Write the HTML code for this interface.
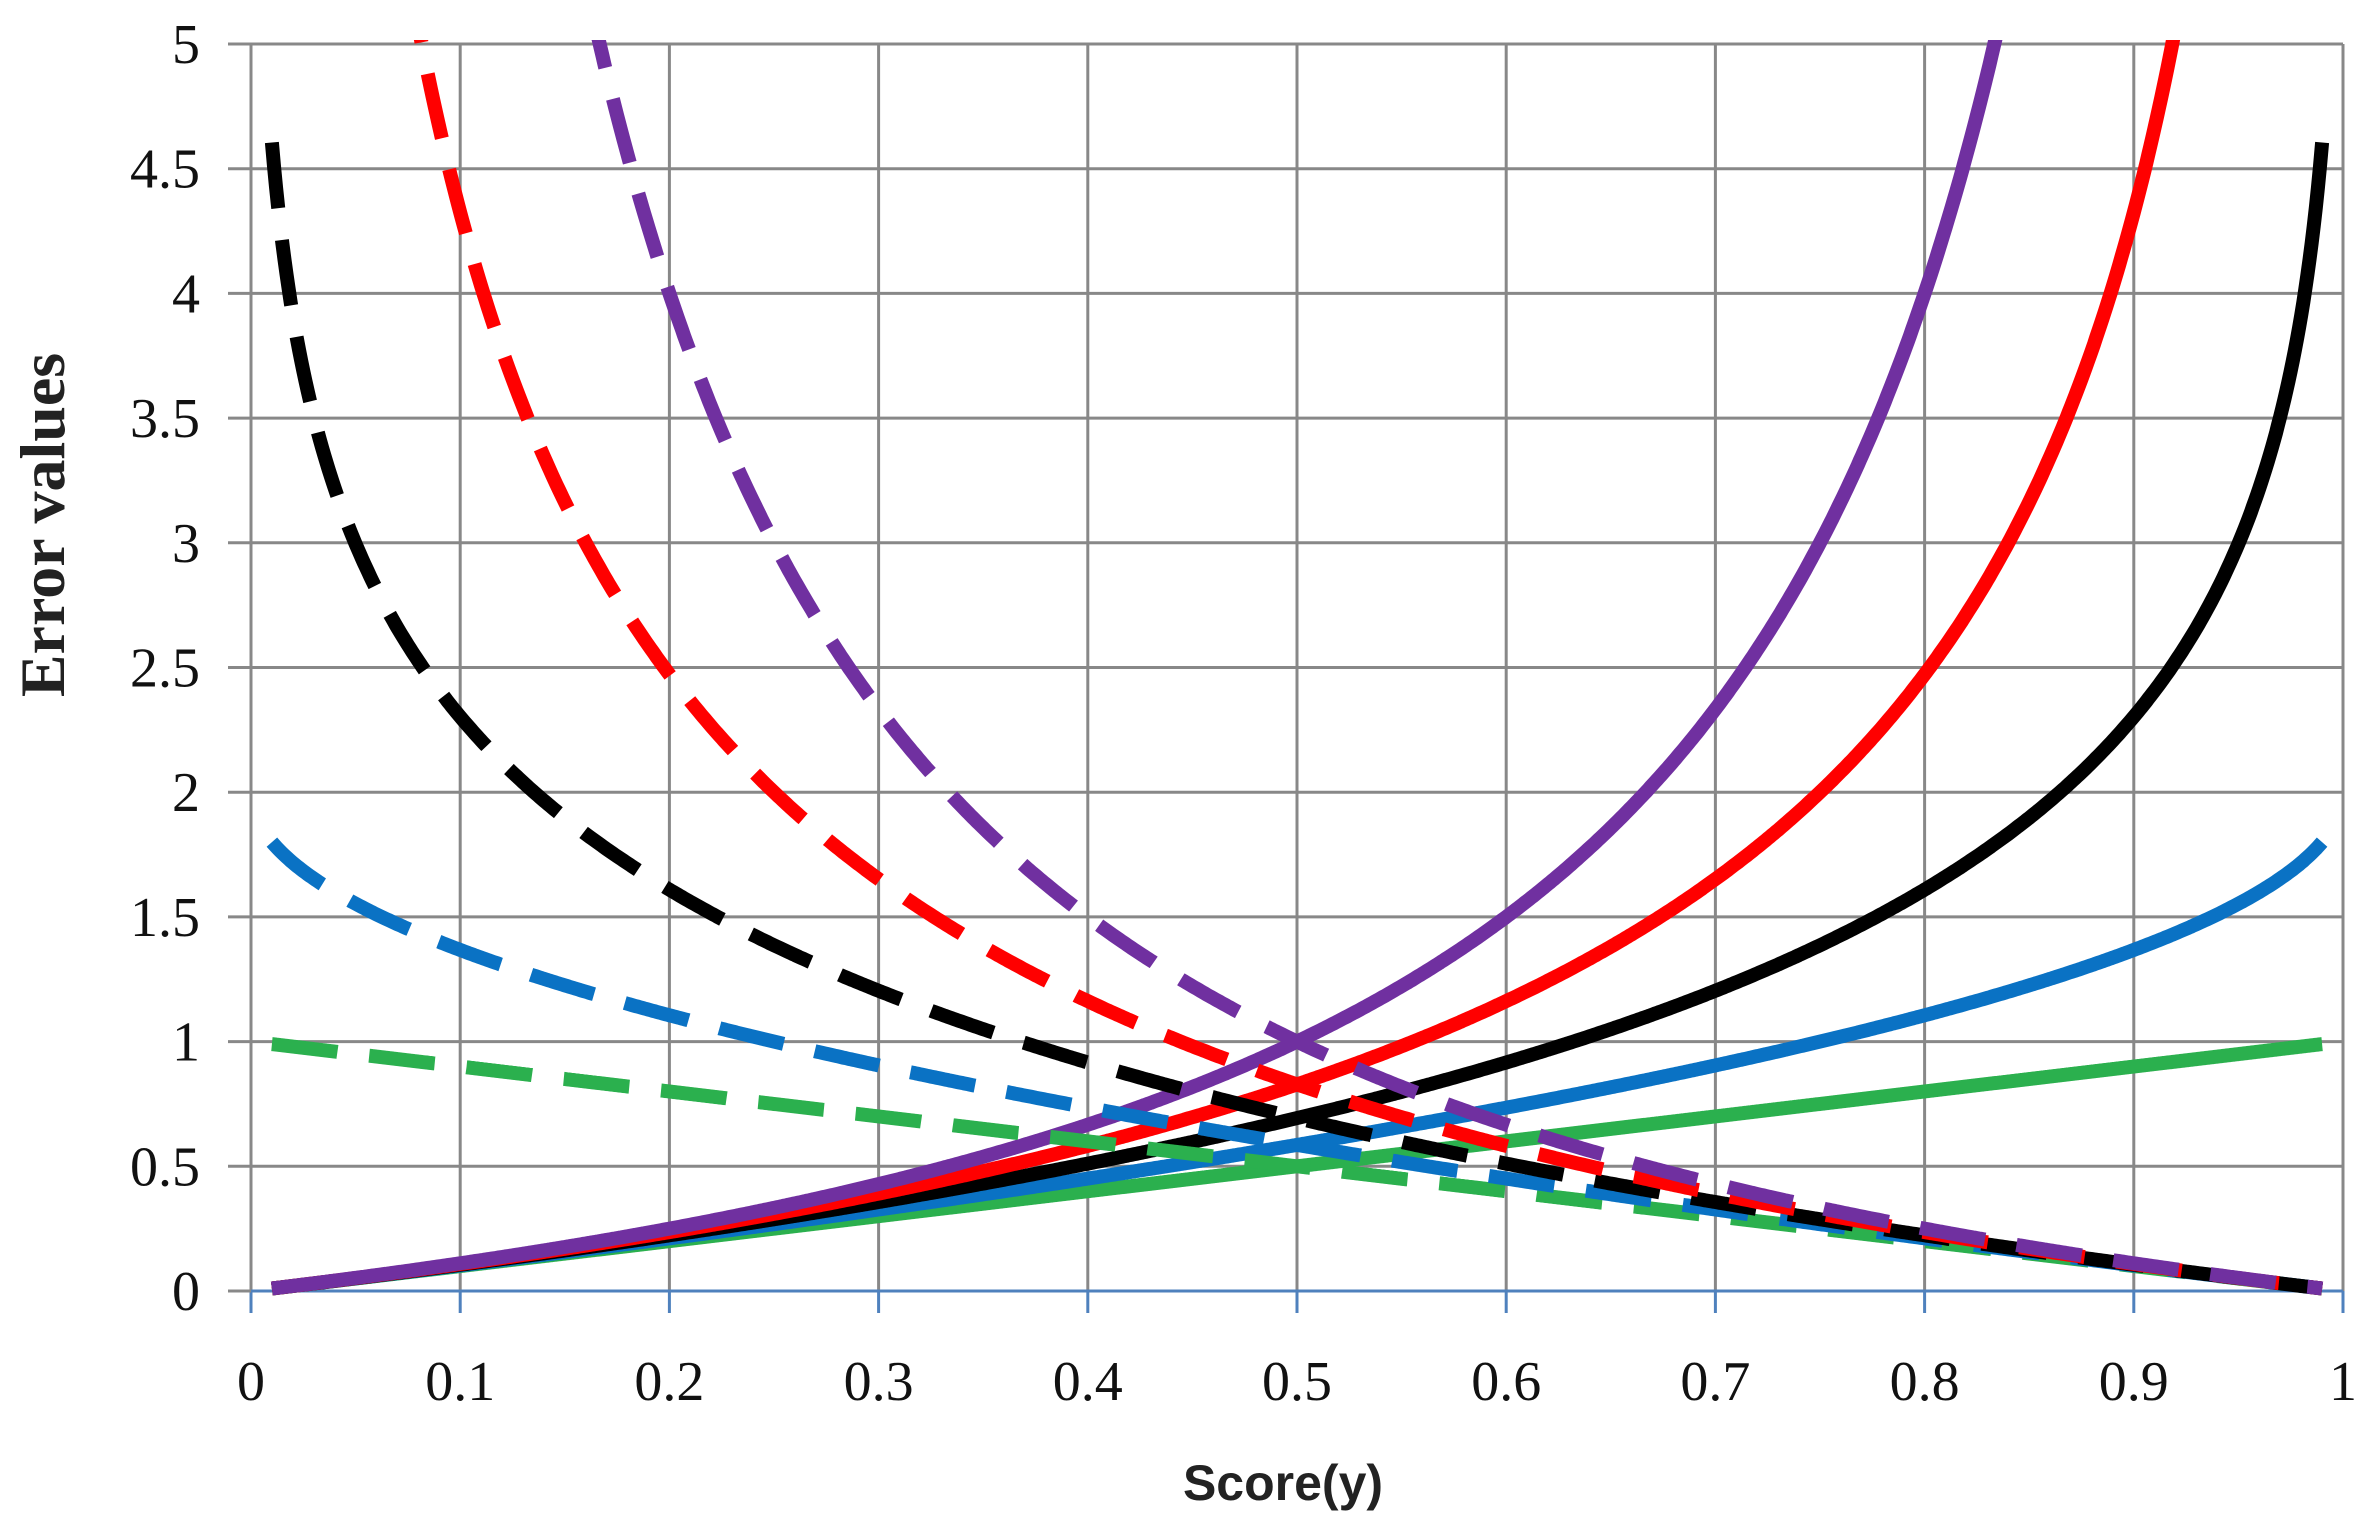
<!DOCTYPE html>
<html><head><meta charset="utf-8"><style>
html,body{margin:0;padding:0;background:#fff;}
svg{display:block}
.t{font-family:"Liberation Serif",serif;font-size:56px;fill:#111}
</style></head><body>
<svg id="s" width="2374" height="1531" xmlns="http://www.w3.org/2000/svg">
<defs><clipPath id="c"><rect x="240" y="40" width="2120" height="1260"/></clipPath></defs>
<g id="grid"></g>
<g id="curves" clip-path="url(#c)"></g>
<g id="labels"></g>
<text x="1283" y="1500" text-anchor="middle" style="font-family:'Liberation Sans',sans-serif;font-weight:bold;font-size:50px;fill:#222">Score(y)</text>
<text transform="translate(64,525) rotate(-90)" text-anchor="middle" style="font-family:'Liberation Serif',serif;font-weight:bold;font-size:64px;fill:#222">Error values</text>
</svg>
<script>
const X0=251,X1=2343,Y0=1291,Y5=44;
const sx=v=>X0+(X1-X0)*v, sy=v=>Y0-(Y0-Y5)*v/5;
const ns="http://www.w3.org/2000/svg";
function el(p,t,a,txt){const e=document.createElementNS(ns,t);for(const k in a)e.setAttribute(k,a[k]);if(txt!=null)e.textContent=txt;document.getElementById(p).appendChild(e);return e;}
for(let i=0;i<=10;i++){const x=sx(i/10);el('grid','line',{x1:x,y1:Y5,x2:x,y2:Y0,stroke:'#888','stroke-width':3});
 el('grid','line',{x1:x,y1:Y0,x2:x,y2:1313,stroke:'#4f81bd','stroke-width':3});
 el('labels','text',{x:x,y:1400,'text-anchor':'middle',class:'t'},i==0?'0':i==10?'1':'0.'+i);}
for(let j=0;j<=10;j++){const y=sy(j/2);el('grid','line',{x1:228,y1:y,x2:X1,y2:y,stroke:'#888','stroke-width':3});
 el('labels','text',{x:200,y:y+19,'text-anchor':'end',class:'t'},String(j/2));}
el('grid','line',{x1:X0,y1:Y0,x2:X1,y2:Y0,stroke:'#4f81bd','stroke-width':3});
const f=(q,y)=>q==0?-Math.log(1-y):(Math.pow(1-y,-q)-1)/q;
const ser=[[-1,'#2bb04e'],[-0.5,'#0a72c4'],[0,'#000'],[0.5,'#ff0000'],[1,'#7030a0']];
function path(q,dash){let d='';for(let i=0;i<=980;i++){const y=0.01+i*0.001;const v=dash?f(q,1-y):f(q,y);const vv=Math.min(v,6);d+=(i?'L':'M')+sx(y).toFixed(1)+','+sy(vv).toFixed(1);}return d;}
for(const [q,c] of ser) el('curves','path',{d:path(q,false),fill:'none',stroke:c,'stroke-width':14,'stroke-linejoin':'round'});
for(const [q,c] of ser) el('curves','path',{d:path(q,true),fill:'none',stroke:c,'stroke-width':14,'stroke-dasharray':'66 32'});
</script>
</body></html>
